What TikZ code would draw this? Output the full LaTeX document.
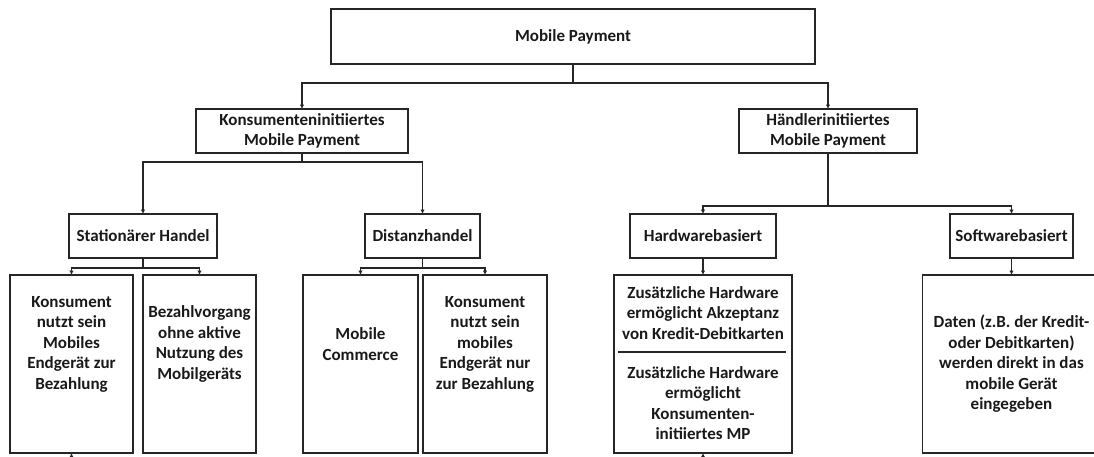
\documentclass[tikz,border=0pt]{standalone}
\usepackage{fontspec}
\setmainfont{Carlito}
\usetikzlibrary{arrows.meta}

\begin{document}
\begin{tikzpicture}[x=1pt,y=-1pt,
  every node/.style={font=\fontsize{17}{20.5}\selectfont\bfseries, text=black!90},
  box/.style={draw=black!85, line width=1.2pt, inner sep=0pt, outer sep=0pt, align=center},
  lbl/.style={align=center, inner sep=0pt},
  link/.style={draw=black!85, line width=1.2pt},
  arr/.style={link, -{Latex[length=4.5pt,width=4.5pt]}}
]
\useasboundingbox (0,0) rectangle (1094,456);

% level 0
\node[box, minimum width=484, minimum height=55] (mp) at (573,36.5) {Mobile Payment};

% level 1
\node[box, minimum width=212, minimum height=44] (kon) at (302,131) {Konsumenteninitiiertes\\Mobile Payment};
\node[box, minimum width=178, minimum height=44] (hae) at (828,131) {Händlerinitiiertes\\Mobile Payment};

% level 2
\node[box, minimum width=148, minimum height=44] (stat) at (143,236) {Stationärer Handel};
\node[box, minimum width=115, minimum height=44] (dist) at (422.5,236) {Distanzhandel};
\node[box, minimum width=146, minimum height=44] (hw) at (703,236) {Hardwarebasiert};
\node[box, minimum width=123, minimum height=44] (sw) at (1011.5,236) {Softwarebasiert};

% level 3 frames
\node[box, minimum width=123, minimum height=178] (b1) at (71.5,364) {};
\node[box, minimum width=113, minimum height=178] (b2) at (199.5,364) {};
\node[box, minimum width=115, minimum height=178] (b3) at (360.5,364) {};
\node[box, minimum width=124, minimum height=178] (b4) at (485,364) {};
\node[box, minimum width=178, minimum height=178] (zus) at (703,364) {};
\node[box, minimum width=178, minimum height=178] (dat) at (1011.5,364) {};

% level 3 texts
\node[lbl] (t1) at (71.5,344) {Konsument\\nutzt sein\\Mobiles\\Endgerät zur\\Bezahlung};
\node[lbl] (t2) at (199.5,344) {Bezahlvorgang\\ohne aktive\\Nutzung des\\Mobilgeräts};
\node[lbl] (t3) at (360.5,344) {Mobile\\Commerce};
\node[lbl] (t4) at (485,344) {Konsument\\nutzt sein\\mobiles\\Endgerät nur\\zur Bezahlung};
\node[lbl] (tz1) at (703,313) {Zusätzliche Hardware\\ermöglicht Akzeptanz\\von Kredit-Debitkarten};
\node[lbl] (tz2) at (703,403) {Zusätzliche Hardware\\ermöglicht\\Konsumenten-\\initiiertes MP};
\node[lbl] (td) at (1011.5,364) {Daten (z.B. der Kredit-\\oder Debitkarten)\\werden direkt in das\\mobile Gerät\\eingegeben};

% divider inside the hardware box
\coordinate (sepL) at (618,352);
\coordinate (sepR) at (786,352);
\draw[link] (sepL) -- (sepR);

% junctions of the tree
\coordinate (j0) at (573,83);
\coordinate (j1) at (302,162);
\coordinate (j2) at (828,206);
\coordinate (j3) at (143,268);
\coordinate (j4) at (422.5,268);

\draw[link] (mp.south) -- (j0);
\draw[arr] (j0) -| (kon.north);
\draw[arr] (j0) -| (hae.north);

\draw[link] (kon.south) -- (j1);
\draw[arr] (j1) -| (stat.north);
\draw[arr] (j1) -| (dist.north);

\draw[link] (hae.south) -- (j2);
\draw[arr] (j2) -| (hw.north);
\draw[arr] (j2) -| (sw.north);

\draw[link] (stat.south) -- (j3);
\draw[arr] (j3) -| (b1.north);
\draw[arr] (j3) -| (b2.north);

\draw[link] (dist.south) -- (j4);
\draw[arr] (j4) -| (b3.north);
\draw[arr] (j4) -| (b4.north);

\draw[arr] (hw.south) -- (zus.north);
\draw[arr] (sw.south) -- (dat.north);

% links continuing below the lower edge
\coordinate (s1) at (71.5,462);
\coordinate (s2) at (703,462);
\draw[arr] (s1) -- (b1.south);
\draw[arr] (s2) -- (zus.south);
\end{tikzpicture}
\end{document}
